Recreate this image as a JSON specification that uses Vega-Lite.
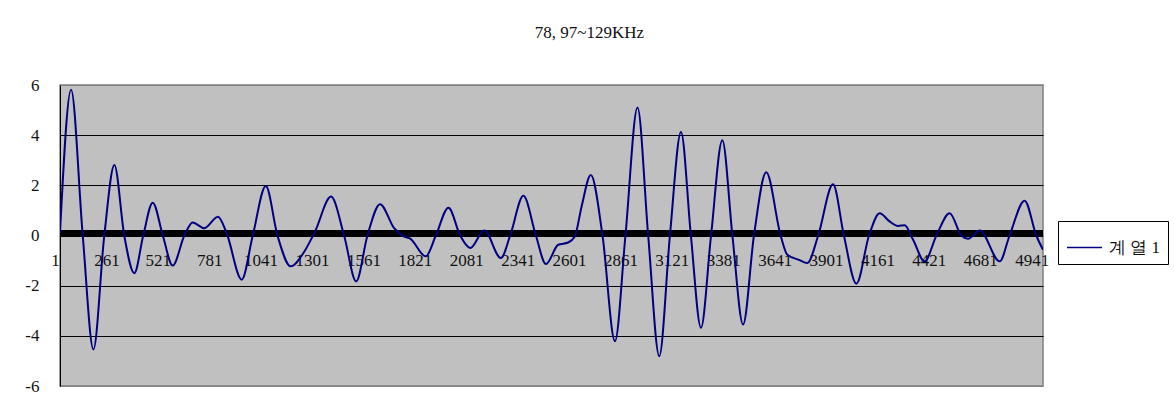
{
  "$schema": "https://vega.github.io/schema/vega-lite/v6.json",
  "width": 983,
  "height": 301,
  "autosize": {"type": "none"},
  "padding": {"left": 60, "top": 85, "right": 131, "bottom": 25},
  "background": "white",
  "title": {
    "text": "78, 97~129KHz",
    "font": "Liberation Serif",
    "fontSize": 17,
    "fontWeight": "normal",
    "color": "#111111",
    "anchor": "middle",
    "frame": "group",
    "dx": 38,
    "offset": 34
  },
  "data": {
    "values": [
      {"x": 1, "v": 0.1, "s": "계 열 1"},
      {"x": 57, "v": 5.81, "s": "계 열 1"},
      {"x": 116, "v": 0, "s": "계 열 1"},
      {"x": 170, "v": -4.54, "s": "계 열 1"},
      {"x": 225, "v": 0, "s": "계 열 1"},
      {"x": 276, "v": 2.81, "s": "계 열 1"},
      {"x": 326, "v": 0, "s": "계 열 1"},
      {"x": 377, "v": -1.5, "s": "계 열 1"},
      {"x": 422, "v": 0, "s": "계 열 1"},
      {"x": 470, "v": 1.31, "s": "계 열 1"},
      {"x": 521, "v": 0, "s": "계 열 1"},
      {"x": 571, "v": -1.2, "s": "계 열 1"},
      {"x": 630, "v": 0, "s": "계 열 1"},
      {"x": 672, "v": 0.52, "s": "계 열 1"},
      {"x": 731, "v": 0.29, "s": "계 열 1"},
      {"x": 800, "v": 0.75, "s": "계 열 1"},
      {"x": 844, "v": 0.09, "s": "계 열 1"},
      {"x": 920, "v": -1.76, "s": "계 열 1"},
      {"x": 976, "v": 0, "s": "계 열 1"},
      {"x": 1042, "v": 1.97, "s": "계 열 1"},
      {"x": 1101, "v": 0, "s": "계 열 1"},
      {"x": 1168, "v": -1.23, "s": "계 열 1"},
      {"x": 1232, "v": -0.7, "s": "계 열 1"},
      {"x": 1291, "v": 0.16, "s": "계 열 1"},
      {"x": 1372, "v": 1.55, "s": "계 열 1"},
      {"x": 1438, "v": 0, "s": "계 열 1"},
      {"x": 1499, "v": -1.83, "s": "계 열 1"},
      {"x": 1556, "v": 0, "s": "계 열 1"},
      {"x": 1620, "v": 1.25, "s": "계 열 1"},
      {"x": 1691, "v": 0.29, "s": "계 열 1"},
      {"x": 1742, "v": -0.04, "s": "계 열 1"},
      {"x": 1772, "v": -0.12, "s": "계 열 1"},
      {"x": 1851, "v": -0.83, "s": "계 열 1"},
      {"x": 1902, "v": 0, "s": "계 열 1"},
      {"x": 1966, "v": 1.11, "s": "계 열 1"},
      {"x": 2025, "v": 0, "s": "계 열 1"},
      {"x": 2076, "v": -0.5, "s": "계 열 1"},
      {"x": 2147, "v": 0.2, "s": "계 열 1"},
      {"x": 2231, "v": -0.9, "s": "계 열 1"},
      {"x": 2278, "v": 0, "s": "계 열 1"},
      {"x": 2345, "v": 1.58, "s": "계 열 1"},
      {"x": 2408, "v": 0, "s": "계 열 1"},
      {"x": 2459, "v": -1.14, "s": "계 열 1"},
      {"x": 2521, "v": -0.37, "s": "계 열 1"},
      {"x": 2571, "v": -0.28, "s": "계 열 1"},
      {"x": 2605, "v": -0.04, "s": "계 열 1"},
      {"x": 2639, "v": 1.15, "s": "계 열 1"},
      {"x": 2686, "v": 2.41, "s": "계 열 1"},
      {"x": 2745, "v": 0, "s": "계 열 1"},
      {"x": 2808, "v": -4.21, "s": "계 열 1"},
      {"x": 2861, "v": 0, "s": "계 열 1"},
      {"x": 2922, "v": 5.1, "s": "계 열 1"},
      {"x": 2976, "v": 0, "s": "계 열 1"},
      {"x": 3032, "v": -4.81, "s": "계 열 1"},
      {"x": 3086, "v": 0, "s": "계 열 1"},
      {"x": 3142, "v": 4.13, "s": "계 열 1"},
      {"x": 3192, "v": 0, "s": "계 열 1"},
      {"x": 3243, "v": -3.68, "s": "계 열 1"},
      {"x": 3294, "v": 0, "s": "계 열 1"},
      {"x": 3351, "v": 3.8, "s": "계 열 1"},
      {"x": 3402, "v": 0, "s": "계 열 1"},
      {"x": 3456, "v": -3.55, "s": "계 열 1"},
      {"x": 3511, "v": 0, "s": "계 열 1"},
      {"x": 3573, "v": 2.52, "s": "계 열 1"},
      {"x": 3646, "v": 0, "s": "계 열 1"},
      {"x": 3680, "v": -0.77, "s": "계 열 1"},
      {"x": 3739, "v": -0.97, "s": "계 열 1"},
      {"x": 3781, "v": -1.1, "s": "계 열 1"},
      {"x": 3836, "v": 0, "s": "계 열 1"},
      {"x": 3911, "v": 2.04, "s": "계 열 1"},
      {"x": 3966, "v": 0, "s": "계 열 1"},
      {"x": 4029, "v": -1.92, "s": "계 열 1"},
      {"x": 4093, "v": 0, "s": "계 열 1"},
      {"x": 4147, "v": 0.89, "s": "계 열 1"},
      {"x": 4197, "v": 0.56, "s": "계 열 1"},
      {"x": 4240, "v": 0.38, "s": "계 열 1"},
      {"x": 4273, "v": 0.41, "s": "계 열 1"},
      {"x": 4316, "v": -0.17, "s": "계 열 1"},
      {"x": 4374, "v": -1.03, "s": "계 열 1"},
      {"x": 4434, "v": 0, "s": "계 열 1"},
      {"x": 4501, "v": 0.89, "s": "계 열 1"},
      {"x": 4560, "v": 0, "s": "계 열 1"},
      {"x": 4594, "v": -0.13, "s": "계 열 1"},
      {"x": 4653, "v": 0.2, "s": "계 열 1"},
      {"x": 4754, "v": -1.03, "s": "계 열 1"},
      {"x": 4804, "v": 0, "s": "계 열 1"},
      {"x": 4880, "v": 1.39, "s": "계 열 1"},
      {"x": 4939, "v": 0, "s": "계 열 1"},
      {"x": 4973, "v": -0.57, "s": "계 열 1"}
    ]
  },
  "layer": [
    {
      "mark": {"type": "rule", "color": "black", "strokeWidth": 7, "yOffset": -2},
      "encoding": {"y": {"datum": 0, "type": "quantitative"}}
    },
    {
      "mark": {"type": "line", "interpolate": "monotone", "strokeWidth": 2, "clip": true},
      "encoding": {
        "x": {
          "field": "x",
          "type": "quantitative",
          "scale": {"domain": [1, 4973], "nice": false, "zero": false},
          "axis": {
            "title": null,
            "values": [1, 261, 521, 781, 1041, 1301, 1561, 1821, 2081, 2341, 2601, 2861, 3121, 3381, 3641, 3901, 4161, 4421, 4681, 4941],
            "format": "d",
            "offset": -151,
            "domain": false,
            "ticks": false,
            "grid": false,
            "labelFont": "Liberation Serif",
            "labelFontSize": 17,
            "labelColor": "#111111",
            "labelPadding": 17,
            "labelOffset": -5,
            "labelOverlap": false,
            "labelFlush": false,
            "labelBound": false
          }
        },
        "y": {
          "field": "v",
          "type": "quantitative",
          "scale": {"domain": [-6, 6], "nice": false},
          "axis": {
            "title": null,
            "values": [-6, -4, -2, 0, 2, 4, 6],
            "labelExpr": "datum.value < 0 ? '-' + abs(datum.value) : '' + datum.value",
            "domain": true,
            "domainColor": "black",
            "domainWidth": 1,
            "ticks": false,
            "grid": true,
            "gridColor": {"condition": {"test": "abs(datum.value) == 6 || datum.value == 0", "value": "#808080"}, "value": "black"},
            "gridOpacity": 1,
            "gridWidth": 1,
            "labelFont": "Liberation Serif",
            "labelFontSize": 17,
            "labelColor": "#111111",
            "labelPadding": 21
          }
        },
        "color": {
          "field": "s",
          "type": "nominal",
          "scale": {"range": ["#000080"]},
          "legend": {
            "title": null,
            "orient": "none",
            "legendX": 998,
            "legendY": 136,
            "strokeColor": "black",
            "fillColor": "white",
            "padding": 8,
            "symbolType": "stroke",
            "symbolSize": 1225,
            "symbolStrokeWidth": 1.5,
            "labelFont": "Liberation Serif",
            "labelFontSize": 17,
            "labelColor": "#111111",
            "labelOffset": 6
          }
        }
      }
    }
  ],
  "config": {
    "view": {"fill": "#C0C0C0", "stroke": "#808080", "strokeWidth": 1.5}
  }
}
